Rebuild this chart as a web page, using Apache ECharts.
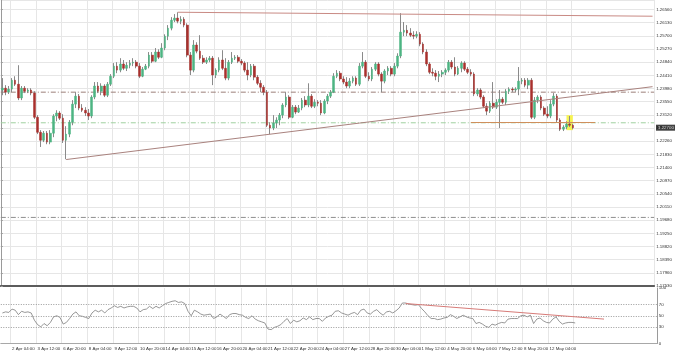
<!DOCTYPE html>
<html><head><meta charset="utf-8">
<script src="https://cdn.jsdelivr.net/npm/echarts@6/dist/echarts.min.js"></script>
<style>html,body{margin:0;padding:0;background:#fff}#c{width:675px;height:354px}</style>
</head><body><div id="c"></div><script>
// ---- time axis (H4 bars) ----
const tradingDays = ['1 Apr','2 Apr','3 Apr','6 Apr','7 Apr','8 Apr','9 Apr','10 Apr','13 Apr','14 Apr','15 Apr','16 Apr','17 Apr','20 Apr','21 Apr','22 Apr','23 Apr','24 Apr','27 Apr','28 Apr','29 Apr','30 Apr','1 May','4 May','5 May','6 May','7 May','8 May','11 May','12 May','13 May','14 May','15 May','18 May','19 May'];
const barHours = ['00:00','04:00','08:00','12:00','16:00','20:00'];
const firstBarOffset = 4;   // chart starts at 1 Apr 16:00
const totalSlots = 205;     // bars + empty chart shift
const labelStart = 3, labelStep = 8;

// ---- OHLC ----
const openP = [1.2393,1.2399,1.2386,1.2396,1.2425,1.2412,1.2367,1.2399,1.2389,1.2393,
1.2383,1.2304,1.2255,1.2229,1.2252,1.2223,1.2252,1.2308,1.2318,1.2301,
1.2229,1.2249,1.2288,1.2347,1.2373,1.2334,1.2327,1.2318,1.2308,1.2370,
1.2406,1.2389,1.2406,1.2376,1.2412,1.2438,1.2471,1.2458,1.2478,1.2464,
1.2474,1.2481,1.2484,1.2471,1.2438,1.2461,1.2471,1.2507,1.2487,1.2517,
1.2500,1.2530,1.2569,1.2595,1.2621,1.2628,1.2618,1.2624,1.2605,1.2507,
1.2458,1.2540,1.2520,1.2497,1.2484,1.2491,1.2497,1.2442,1.2458,1.2491,
1.2464,1.2432,1.2484,1.2497,1.2500,1.2487,1.2481,1.2458,1.2442,1.2471,
1.2435,1.2415,1.2402,1.2386,1.2278,1.2269,1.2285,1.2295,1.2311,1.2344,
1.2370,1.2304,1.2337,1.2321,1.2334,1.2360,1.2344,1.2373,1.2340,1.2353,
1.2350,1.2318,1.2357,1.2373,1.2386,1.2438,1.2448,1.2429,1.2419,1.2406,
1.2422,1.2432,1.2412,1.2471,1.2484,1.2438,1.2429,1.2461,1.2478,1.2445,
1.2422,1.2455,1.2464,1.2445,1.2471,1.2504,1.2582,1.2588,1.2579,1.2572,
1.2569,1.2575,1.2543,1.2517,1.2478,1.2451,1.2448,1.2438,1.2445,1.2451,
1.2458,1.2484,1.2468,1.2445,1.2464,1.2481,1.2461,1.2451,1.2445,1.2380,
1.2393,1.2370,1.2340,1.2324,1.2350,1.2337,1.2353,1.2363,1.2353,1.2389,
1.2396,1.2393,1.2396,1.2422,1.2425,1.2409,1.2425,1.2304,1.2360,1.2370,
1.2334,1.2314,1.2308,1.2347,1.2373,1.2295,1.2265,1.2272,1.2282,1.2278];
const closeP = [1.2399,1.2386,1.2396,1.2425,1.2412,1.2367,1.2399,1.2389,1.2393,1.2383,
1.2304,1.2255,1.2229,1.2252,1.2223,1.2252,1.2308,1.2318,1.2301,1.2229,
1.2249,1.2288,1.2347,1.2373,1.2334,1.2327,1.2318,1.2308,1.2370,1.2406,
1.2389,1.2406,1.2376,1.2412,1.2438,1.2471,1.2458,1.2478,1.2464,1.2474,
1.2481,1.2484,1.2471,1.2438,1.2461,1.2471,1.2507,1.2487,1.2517,1.2500,
1.2530,1.2569,1.2595,1.2621,1.2628,1.2618,1.2624,1.2605,1.2507,1.2458,
1.2540,1.2520,1.2497,1.2484,1.2491,1.2497,1.2442,1.2458,1.2491,1.2464,
1.2432,1.2484,1.2497,1.2500,1.2487,1.2481,1.2458,1.2442,1.2471,1.2435,
1.2415,1.2402,1.2386,1.2278,1.2269,1.2285,1.2295,1.2311,1.2344,1.2370,
1.2304,1.2337,1.2321,1.2334,1.2360,1.2344,1.2373,1.2340,1.2353,1.2350,
1.2318,1.2357,1.2373,1.2386,1.2438,1.2448,1.2429,1.2419,1.2406,1.2422,
1.2432,1.2412,1.2471,1.2484,1.2438,1.2429,1.2461,1.2478,1.2445,1.2422,
1.2455,1.2464,1.2445,1.2471,1.2504,1.2582,1.2588,1.2579,1.2572,1.2569,
1.2575,1.2543,1.2517,1.2478,1.2451,1.2448,1.2438,1.2445,1.2451,1.2458,
1.2484,1.2468,1.2445,1.2464,1.2481,1.2461,1.2451,1.2445,1.2380,1.2393,
1.2370,1.2340,1.2324,1.2350,1.2337,1.2353,1.2363,1.2353,1.2389,1.2396,
1.2393,1.2396,1.2422,1.2425,1.2409,1.2425,1.2304,1.2360,1.2370,1.2334,
1.2314,1.2308,1.2347,1.2373,1.2295,1.2265,1.2272,1.2282,1.2278,1.2270];
const lowP = [1.2376,1.2376,1.2380,1.2386,1.2406,1.2360,1.2360,1.2383,1.2383,1.2376,
1.2298,1.2249,1.2207,1.2223,1.2216,1.2216,1.2239,1.2291,1.2295,1.2220,
1.2167,1.2239,1.2278,1.2334,1.2327,1.2321,1.2308,1.2295,1.2301,1.2363,
1.2383,1.2376,1.2370,1.2370,1.2406,1.2432,1.2448,1.2451,1.2458,1.2455,
1.2464,1.2471,1.2464,1.2432,1.2435,1.2458,1.2464,1.2481,1.2484,1.2494,
1.2497,1.2523,1.2556,1.2588,1.2615,1.2611,1.2608,1.2598,1.2500,1.2442,
1.2451,1.2513,1.2491,1.2478,1.2478,1.2484,1.2409,1.2432,1.2451,1.2458,
1.2425,1.2425,1.2478,1.2491,1.2481,1.2474,1.2451,1.2425,1.2435,1.2425,
1.2409,1.2386,1.2376,1.2272,1.2249,1.2262,1.2269,1.2278,1.2301,1.2337,
1.2298,1.2301,1.2314,1.2318,1.2327,1.2337,1.2337,1.2334,1.2334,1.2340,
1.2311,1.2314,1.2347,1.2367,1.2383,1.2432,1.2422,1.2412,1.2399,1.2399,
1.2415,1.2406,1.2406,1.2464,1.2432,1.2422,1.2422,1.2455,1.2438,1.2386,
1.2415,1.2442,1.2438,1.2438,1.2464,1.2497,1.2569,1.2569,1.2566,1.2559,
1.2562,1.2536,1.2510,1.2471,1.2445,1.2438,1.2425,1.2419,1.2435,1.2442,
1.2451,1.2461,1.2438,1.2442,1.2451,1.2455,1.2445,1.2438,1.2373,1.2373,
1.2363,1.2334,1.2311,1.2318,1.2331,1.2331,1.2269,1.2347,1.2344,1.2380,
1.2386,1.2386,1.2376,1.2412,1.2402,1.2396,1.2298,1.2298,1.2350,1.2327,
1.2308,1.2301,1.2301,1.2340,1.2288,1.2259,1.2259,1.2265,1.2272,1.2265];
const highP = [1.2432,1.2409,1.2406,1.2432,1.2438,1.2474,1.2406,1.2406,1.2399,1.2399,
1.2389,1.2311,1.2262,1.2259,1.2259,1.2262,1.2314,1.2327,1.2324,1.2314,
1.2275,1.2295,1.2360,1.2386,1.2380,1.2347,1.2337,1.2331,1.2376,1.2419,
1.2419,1.2415,1.2412,1.2419,1.2445,1.2481,1.2484,1.2497,1.2491,1.2484,
1.2491,1.2497,1.2491,1.2481,1.2468,1.2478,1.2517,1.2517,1.2530,1.2526,
1.2546,1.2575,1.2605,1.2631,1.2641,1.2647,1.2634,1.2631,1.2611,1.2517,
1.2556,1.2549,1.2572,1.2507,1.2500,1.2504,1.2504,1.2464,1.2500,1.2523,
1.2497,1.2491,1.2517,1.2507,1.2507,1.2494,1.2487,1.2484,1.2478,1.2478,
1.2442,1.2425,1.2409,1.2393,1.2288,1.2311,1.2304,1.2318,1.2350,1.2386,
1.2376,1.2344,1.2344,1.2344,1.2367,1.2373,1.2415,1.2380,1.2363,1.2360,
1.2360,1.2363,1.2380,1.2393,1.2448,1.2458,1.2455,1.2438,1.2435,1.2432,
1.2438,1.2438,1.2481,1.2517,1.2491,1.2451,1.2468,1.2484,1.2484,1.2451,
1.2461,1.2471,1.2471,1.2481,1.2513,1.2644,1.2615,1.2605,1.2595,1.2585,
1.2585,1.2582,1.2549,1.2526,1.2484,1.2464,1.2458,1.2455,1.2458,1.2464,
1.2491,1.2491,1.2500,1.2471,1.2487,1.2487,1.2468,1.2461,1.2451,1.2399,
1.2399,1.2376,1.2350,1.2357,1.2419,1.2363,1.2393,1.2370,1.2396,1.2402,
1.2402,1.2402,1.2468,1.2432,1.2432,1.2432,1.2432,1.2370,1.2376,1.2376,
1.2340,1.2340,1.2360,1.2383,1.2380,1.2301,1.2278,1.2291,1.2308,1.2282];

// ---- RSI(14) panel ----
const rsi = [55,57,56,62,60,52,58,56,57,55,
42,34,30,36,32,38,48,50,47,35,
38,45,53,57,50,49,47,45,55,60,
57,60,55,61,64,68,65,67,64,66,
67,67,64,57,61,62,67,63,67,64,
68,72,74,76,77,74,75,72,58,50,
60,57,53,51,52,53,45,48,53,49,
45,52,54,54,52,51,47,45,50,44,
41,39,37,26,25,29,31,34,40,45,
36,42,39,41,46,43,48,43,45,45,
40,46,49,51,58,59,55,53,51,54,
56,52,60,62,55,53,58,61,55,51,
57,58,55,59,64,73,73,71,70,69,
70,63,57,50,45,45,43,44,46,47,
52,49,45,48,51,48,46,45,36,38,
35,31,29,35,33,36,38,37,44,45,
45,45,50,51,48,51,36,44,46,41,
38,37,44,48,40,35,37,38,38,37];
const rsiLevels = [30, 50, 70];
const rsiLabels = [0, 30, 50, 70, 100];

// ---- price axis ticks ----
const priceMin = 1.1753, priceMax = 1.2687, priceStep = 0.0043;
const priceTickLabels = ['1.17530','1.17960','1.18390','1.18820','1.19250','1.19680','1.20110','1.20540','1.20970','1.21400','1.21830','1.22260','1.22690','1.23120','1.23550','1.23980','1.24410','1.24840','1.25270','1.25700','1.26130','1.26560'];

// ---- drawn objects (bar index, price) ----
const resistLine = [[55, 1.2647], [204, 1.2634]];
const supportLine = [[20, 1.2166], [204, 1.2404]];
const supportHLine = [[147, 1.2288], [186, 1.2288]];
const levelLines = [1.2386, 1.2286, 1.1977];
const levelColors = ['#9c7f78', '#9fd09f', '#8d8d8d'];
const highlightBox = [[177, 1.2311], [179, 1.2262]];
const rsiTrend = [[126, 72], [188, 44]];

// ---- build ----
const allSlots = [];
tradingDays.forEach(d => barHours.forEach(h => allSlots.push(d + ' ' + h)));
const categories = allSlots.slice(firstBarOffset, firstBarOffset + totalSlots);
const lastBar = openP.length - 1;
const showLabel = i => i <= lastBar && i >= labelStart && (i - labelStart) % labelStep === 0;

const wickData = openP.map((o, i) => [o, closeP[i], lowP[i], highP[i]]);
const bodyData = openP.map((o, i) => [o, closeP[i], Math.min(o, closeP[i]), Math.max(o, closeP[i])]);

const FS = 4.4, FF = 'Liberation Sans';
const seg = (pts, style) => [{coord: [categories[pts[0][0]], pts[0][1]], lineStyle: style}, {coord: [categories[pts[1][0]], pts[1][1]]}];

const levelSeries = levelLines.map((v, i) => ({
  type: 'line', xAxisIndex: 2, yAxisIndex: 0, data: [[0, v], [1, v]], symbol: 'none', silent: true, z: 1,
  lineStyle: {color: levelColors[i], width: 1, type: [5, 2, 1, 2]}
}));

const option = {
  animation: false,
  backgroundColor: '#ffffff',
  grid: [
    {left: 0.8, top: 0, width: 656, height: 286},
    {left: 0.8, top: 288, width: 656, height: 55.5}
  ],
  xAxis: [
    {type: 'category', gridIndex: 0, data: categories, boundaryGap: true,
     axisLine: {show: true, onZero: false, lineStyle: {color: '#5c5c5c', width: 2}},
     axisTick: {show: false}, axisLabel: {show: false},
     splitLine: {show: true, interval: (i) => showLabel(i), lineStyle: {color: '#e6e6e6', width: 1}}},
    {type: 'category', gridIndex: 1, data: categories, boundaryGap: true,
     axisLine: {show: true, onZero: false, lineStyle: {color: '#a8a8a8', width: 1}},
     axisTick: {show: false},
     axisLabel: {interval: (i) => showLabel(i), align: 'left', fontSize: FS, fontFamily: FF, color: '#333', margin: 3},
     splitLine: {show: true, interval: (i) => showLabel(i), lineStyle: {color: '#e6e6e6', width: 1}}},
    {type: 'value', gridIndex: 0, min: 0, max: 1, show: false}
  ],
  yAxis: [
    {type: 'value', gridIndex: 0, position: 'right', min: priceMin, max: priceMax, interval: priceStep,
     axisLine: {show: true, lineStyle: {color: '#9a9a9a'}},
     axisTick: {show: true, length: 2, lineStyle: {color: '#9a9a9a'}},
     axisLabel: {fontSize: FS, fontFamily: FF, color: '#333', margin: 2, showMaxLabel: false,
       formatter: (v) => { const k = Math.round((v - priceMin) / priceStep); return Math.abs(v - (priceMin + k * priceStep)) < 1e-6 && priceTickLabels[k] ? priceTickLabels[k] : ''; }},
     splitLine: {show: true, lineStyle: {color: '#e6e6e6', width: 1}}},
    {type: 'value', gridIndex: 1, position: 'right', min: 0, max: 100, interval: 10,
     axisLine: {show: true, lineStyle: {color: '#9a9a9a'}},
     axisTick: {show: false},
     axisLabel: {fontSize: FS, fontFamily: FF, color: '#333', margin: 2,
       formatter: (v) => rsiLabels.includes(Math.round(v)) && Math.abs(v - Math.round(v)) < 1e-6 ? String(Math.round(v)) : ''},
     splitLine: {show: false}}
  ],
  series: levelSeries.concat([
    {type: 'candlestick', name: 'wick', xAxisIndex: 0, yAxisIndex: 0, data: wickData, barWidth: 1, z: 2, silent: true,
     itemStyle: {color: '#8a8a8a', color0: '#8a8a8a', borderColor: '#8a8a8a', borderColor0: '#8a8a8a', borderWidth: 1},
     markArea: {silent: true, itemStyle: {color: '#f6f24a', opacity: 0.95},
       data: [[{coord: [categories[highlightBox[0][0]], highlightBox[0][1]]}, {coord: [categories[highlightBox[1][0]], highlightBox[1][1]]}]]},
     markLine: {silent: true, symbol: ['none', 'none'], label: {show: false}, animation: false,
       data: [
         seg(resistLine, {color: '#c98a84', width: 1, type: 'solid'}),
         seg(supportLine, {color: '#a9827e', width: 1, type: 'solid'}),
         seg(supportHLine, {color: '#cf8f5c', width: 1, type: 'solid'})
       ]}},
    {type: 'candlestick', name: 'body', xAxisIndex: 0, yAxisIndex: 0, data: bodyData, barWidth: 2.2, z: 3, silent: true,
     itemStyle: {color: '#4db482', color0: '#a9302d', borderColor: '#4db482', borderColor0: '#a9302d', borderWidth: 0.5}},
    {type: 'scatter', name: 'last', xAxisIndex: 2, yAxisIndex: 0, data: [[0.999, closeP[lastBar]]], symbolSize: 2, silent: true, z: 10,
     clip: false, itemStyle: {color: 'rgba(0,0,0,0)'},
     label: {show: true, position: 'right', distance: 1.5, formatter: closeP[lastBar].toFixed(5),
       backgroundColor: '#111111', color: '#ffffff', fontSize: FS, fontFamily: FF, padding: [1, 2]}},
    {type: 'line', name: 'RSI', xAxisIndex: 1, yAxisIndex: 1, data: rsi, symbol: 'none', silent: true,
     lineStyle: {color: '#7c7c7c', width: 0.8},
     markLine: {silent: true, symbol: ['none', 'none'], label: {show: false}, animation: false,
       data: rsiLevels.map(v => ({yAxis: v, lineStyle: {color: '#9a9a9a', width: 1, type: [1, 1.5]}}))
         .concat([seg(rsiTrend, {color: '#d77b78', width: 1, type: 'solid'})])}}
  ])
};
echarts.init(document.getElementById('c'), null, {renderer: 'canvas'}).setOption(option);
</script></body></html>
